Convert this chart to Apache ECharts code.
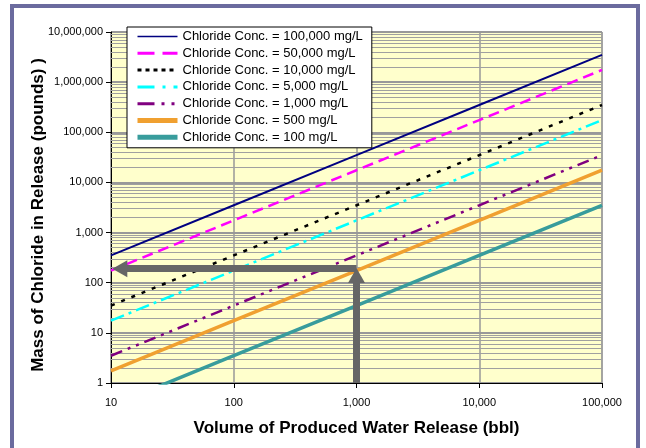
<!DOCTYPE html>
<html><head><meta charset="utf-8">
<script src="https://cdn.jsdelivr.net/npm/echarts@6/dist/echarts.min.js"></script>
<style>html,body{margin:0;padding:0;background:#fff}#c{width:646px;height:448px}</style>
</head><body><div id="c"></div>
<script>
// ---- data ----
const volumes = [10, 100, 1000, 10000, 100000];               // bbl
const seriesNames = [
  'Chloride Conc. = 100,000 mg/L',
  'Chloride Conc. = 50,000 mg/L',
  'Chloride Conc. = 10,000 mg/L',
  'Chloride Conc. = 5,000 mg/L',
  'Chloride Conc. = 1,000 mg/L',
  'Chloride Conc. = 500 mg/L',
  'Chloride Conc. = 100 mg/L'
];
const mass100000 = [350, 3500, 35000, 350000, 3500000];
const mass50000  = [175, 1750, 17500, 175000, 1750000];
const mass10000  = [35, 350, 3500, 35000, 350000];
const mass5000   = [17.5, 175, 1750, 17500, 175000];
const mass1000   = [3.5, 35, 350, 3500, 35000];
const mass500    = [1.75, 17.5, 175, 1750, 17500];
const mass100    = [0.35, 3.5, 35, 350, 3500];
const xTickLabels = ['10', '100', '1,000', '10,000', '100,000'];
const yTickLabels = ['1', '10', '100', '1,000', '10,000', '100,000', '1,000,000', '10,000,000'];
// example read-off arrows
const arrowVolume = 1000;
const arrowMass = 190;
const arrowHeadMass = 140;
const arrowHeadVolume = 11.8;

const FONT = 'Liberation Sans, Arial, sans-serif';
const allMass = [mass100000, mass50000, mass10000, mass5000, mass1000, mass500, mass100];
const styles = [
  {color: '#000080', width: 2, type: 'solid'},
  {color: '#FF00FF', width: 2.5, type: [11, 6]},
  {color: '#000000', width: 2.5, type: [4, 7]},
  {color: '#00FFFF', width: 2.5, type: [14, 5, 3, 5]},
  {color: '#800080', width: 2.5, type: [12, 6, 3, 6, 3, 6]},
  {color: '#F0A030', width: 3.5, type: 'solid'},
  {color: '#389C9C', width: 3.5, type: 'solid'}
];
const legendStyles = [
  {width: 1.5, type: 'solid'},
  {width: 3, type: [17, 8]},
  {width: 3, type: [4, 4]},
  {width: 3, type: [17, 8, 3, 8]},
  {width: 3, type: [17, 7, 3, 7, 3, 7]},
  {width: 5, type: 'solid'},
  {width: 5, type: 'solid'}
];

const minorVals = [];
for (let d = 0; d < 7; d++) for (let k = 2; k <= 9; k++) minorVals.push({yAxis: k * Math.pow(10, d)});

const series = allMass.map((m, i) => ({
  name: seriesNames[i],
  type: 'line',
  symbol: 'none',
  showSymbol: false,
  clip: true,
  z: 3,
  lineStyle: styles[i],
  itemStyle: {color: styles[i].color},
  data: volumes.map((v, j) => [v, m[j]])
}));

series.push({
  name: 'minor-grid', type: 'line', data: [], silent: true,
  markLine: {
    silent: true, z: 1, symbol: ['none', 'none'], label: {show: false},
    lineStyle: {color: '#A0A0A0', width: 1, type: 'solid'},
    emphasis: {disabled: true},
    data: minorVals
  }
});
series.push({
  name: 'arrows', type: 'line', data: [], silent: true,
  markLine: {
    silent: true, z: 10, symbol: ['none', 'triangle'], symbolSize: [17, 15],
    label: {show: false}, emphasis: {disabled: true},
    lineStyle: {color: '#666666', width: 7, type: 'solid', opacity: 1},
    itemStyle: {color: '#666666'},
    data: [
      [{coord: [arrowVolume, arrowMass]}, {coord: [arrowHeadVolume, arrowMass]}],
      [{coord: [arrowVolume, 1]}, {coord: [arrowVolume, arrowHeadMass]}]
    ]
  }
});

const chart = echarts.init(document.getElementById('c'), null, {renderer: 'canvas'});
chart.setOption({
  animation: false,
  backgroundColor: '#ffffff',
  textStyle: {fontFamily: FONT},
  graphic: [{
    type: 'rect', silent: true, z: 100,
    shape: {x: 12, y: 6, width: 626, height: 460},
    style: {fill: 'none', stroke: '#6B6B9E', lineWidth: 4}
  }],
  grid: {
    left: 111, right: 44, top: 32, bottom: 65,
    show: true, backgroundColor: '#FFFFCC', borderColor: '#8C8C8C', borderWidth: 1
  },
  legend: {
    orient: 'vertical', left: 127, top: 27,
    itemWidth: 40, itemHeight: 12, itemGap: 3.8,
    backgroundColor: '#ffffff', borderColor: '#000000', borderWidth: 1,
    padding: [3, 9, 4, 8],
    itemStyle: {opacity: 0},
    textStyle: {fontFamily: FONT, fontSize: 13, color: '#000'},
    data: seriesNames.map((n, i) => ({name: n, lineStyle: legendStyles[i]}))
  },
  xAxis: {
    type: 'log', logBase: 10, min: 10, max: 100000,
    name: 'Volume of Produced Water Release (bbl)',
    nameLocation: 'middle', nameGap: 37,
    nameTextStyle: {fontFamily: FONT, fontSize: 17, fontWeight: 'bold', color: '#000'},
    axisLine: {show: true, lineStyle: {color: '#000', width: 1}},
    axisTick: {show: true, length: 5, lineStyle: {color: '#000'}},
    axisLabel: {
      fontFamily: FONT, fontSize: 11, color: '#000', margin: 14,
      formatter: v => xTickLabels[Math.round(Math.log10(v)) - 1]
    },
    splitLine: {show: true, lineStyle: {color: '#999999', width: 1.5}},
    minorTick: {show: false}, minorSplitLine: {show: false}
  },
  yAxis: {
    type: 'log', logBase: 10, min: 1, max: 10000000,
    name: 'Mass of Chloride in Release (pounds) )',
    nameLocation: 'middle', nameGap: 64, nameRotate: 90, nameMoveOverlap: false,
    nameTextStyle: {fontFamily: FONT, fontSize: 17, fontWeight: 'bold', color: '#000', padding: [0, 15, 0, 0]},
    axisLine: {show: true, lineStyle: {color: '#000', width: 1}},
    axisTick: {show: true, length: 5, lineStyle: {color: '#000'}},
    axisLabel: {
      fontFamily: FONT, fontSize: 11, color: '#000', margin: 8,
      formatter: v => yTickLabels[Math.round(Math.log10(v))]
    },
    splitLine: {show: true, lineStyle: {color: '#999999', width: 2}},
    minorTick: {show: false}, minorSplitLine: {show: false}
  },
  series: series
});
</script></body></html>
